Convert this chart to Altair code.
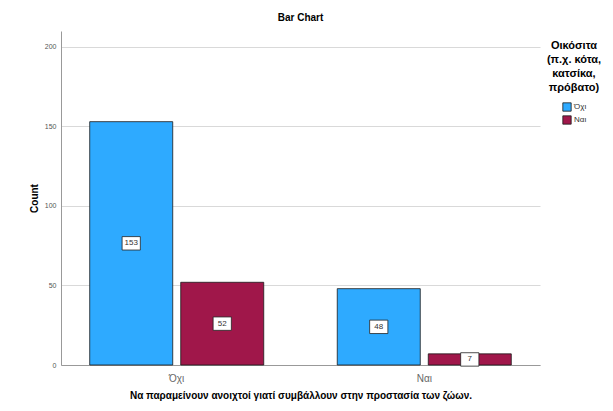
import altair as alt
import pandas as pd

groups = ["Όχι", "Ναι"]
series = ["Όχι", "Ναι"]
counts = [[153, 52], [48, 7]]
colors = ["#2EAAFF", "#A0174A"]

rows = []
for gi, g in enumerate(groups):
    for si, s in enumerate(series):
        rows.append({"group": g, "series": s, "count": counts[gi][si]})
df = pd.DataFrame(rows)

FONT = "Liberation Sans"

x = alt.X("group:N", sort=groups,
          scale=alt.Scale(paddingInner=0.297, paddingOuter=0.116),
          axis=alt.Axis(title="Να παραμείνουν ανοιχτοί γιατί συμβάλλουν στην προστασία των ζώων.",
                        labelAngle=0, labelColor="#666666", labelFontSize=10,
                        titleFontSize=10, titleFontWeight="bold", titleColor="#000000",
                        domainColor="#999999", ticks=False, labelPadding=8, titlePadding=7))
xo = alt.XOffset("series:N", sort=series, scale=alt.Scale(paddingInner=0.088, paddingOuter=0))

base = alt.Chart(df)

bars = base.mark_bar(stroke="#1a1a1a", strokeWidth=0.8).encode(
    x=x, xOffset=xo,
    y=alt.Y("count:Q", scale=alt.Scale(domain=[0, 210], nice=False),
            axis=alt.Axis(title="Count", values=[0, 50, 100, 150, 200], labelFontSize=7,
                          labelColor="#555555", titleFontSize=10, titleFontWeight="bold",
                          titleColor="#000000", grid=True, gridColor="#d9d9d9",
                          domainColor="#999999", ticks=False, labelPadding=5, titlePadding=5)),
    color=alt.Color("series:N", sort=series,
                    scale=alt.Scale(domain=series, range=colors),
                    legend=alt.Legend(title=["Οικόσιτα", "(π.χ. κότα,", "κατσίκα,", "πρόβατο)"],
                                      orient="none", legendX=486, legendY=9,
                                      titleFontSize=11, titleFontWeight="bold",
                                      titleLineHeight=14,
                                      titleAlign="center", titleAnchor="middle",
                                      titleColor="#000000", labelFontSize=8,
                                      labelColor="#333333", symbolType="square",
                                      symbolSize=70, symbolStrokeColor="#1a1a1a",
                                      symbolStrokeWidth=0.8, symbolOpacity=1, rowPadding=1,
                                      labelOffset=2, titlePadding=9)),
)

boxes = base.mark_point(shape="M-1.36,-1L1.36,-1L1.36,1L-1.36,1Z", filled=True, fill="white",
                        stroke="#222222", strokeWidth=0.8, opacity=1, size=180).encode(
    x=x, xOffset=xo,
    y=alt.Y("mid:Q"),
)

texts = base.mark_text(fontSize=8, color="#333333", font=FONT).encode(
    x=x, xOffset=xo,
    y=alt.Y("mid:Q"),
    text=alt.Text("count:Q"),
)

chart = alt.layer(bars, boxes.transform_calculate(mid="datum.count/2"),
                  texts.transform_calculate(mid="datum.count/2")).properties(
    width=479, height=334,
    padding={"left": 21, "top": 5, "right": 0, "bottom": 5},
    title=alt.Title("Bar Chart", fontSize=10, fontWeight="bold", font=FONT, color="#000000", offset=8),
).configure(font=FONT).configure_view(stroke=None).configure_axis(labelFont=FONT, titleFont=FONT)

chart.save("out.html", embed_options={"renderer": "svg", "actions": False})
